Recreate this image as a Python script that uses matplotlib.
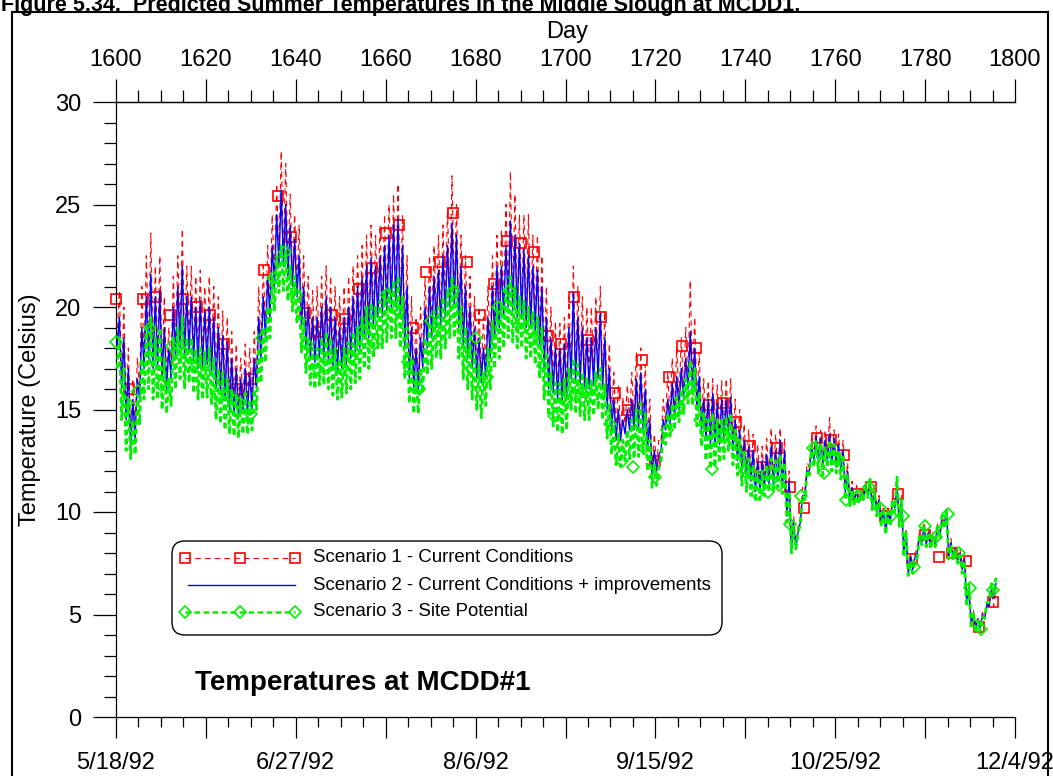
import numpy as np
import matplotlib
matplotlib.use("Agg")
import matplotlib.pyplot as plt
from matplotlib.patches import Rectangle, FancyBboxPatch
from matplotlib.lines import Line2D
from matplotlib.transforms import IdentityTransform
from matplotlib.ticker import MultipleLocator

plt.rcParams['font.family'] = ['Liberation Sans', 'DejaVu Sans']
plt.rcParams['lines.scale_dashes'] = False

W, H = 1053, 776
first_day = 1600

# daily highs / lows, one value per day from day 1600 to 1795
s1_high = [20.8, 20.0, 18.0, 16.5, 17.5, 21.0, 22.5, 23.6, 22.0, 22.5,
           20.5, 19.0, 21.5, 22.5, 23.8, 22.0, 22.0, 21.5, 21.8, 21.0,
           21.5, 21.0, 20.5, 19.8, 19.5, 18.8, 18.2, 17.5, 18.2, 18.0,
           18.8, 21.0, 22.0, 23.0, 24.5, 26.0, 27.6, 27.0, 25.5, 24.5,
           24.0, 22.5, 21.5, 20.8, 21.0, 21.5, 22.0, 21.5, 21.0, 20.5,
           21.0, 21.5, 22.0, 22.5, 23.0, 23.5, 24.0, 23.5, 24.0, 24.5,
           25.0, 25.5, 26.0, 24.5, 22.5, 20.5, 19.5, 20.0, 21.5, 22.5,
           23.0, 23.5, 24.0, 24.8, 26.4, 25.0, 23.5, 22.5, 21.5, 20.5,
           20.0, 19.5, 21.0, 22.5, 23.5, 23.8, 25.0, 26.6, 25.5, 24.5,
           24.5, 24.5, 23.5, 23.5, 22.5, 21.0, 20.0, 19.3, 19.2, 19.5,
           20.5, 22.0, 21.0, 20.5, 20.0, 20.0, 20.5, 21.0, 19.8, 18.2,
           16.8, 16.2, 15.6, 16.2, 16.8, 17.8, 18.0, 17.2, 15.5, 13.8,
           13.5, 15.5, 16.8, 17.5, 18.0, 18.5, 19.0, 21.3, 19.5, 17.8,
           16.5, 16.4, 16.5, 16.2, 16.4, 16.5, 16.5, 15.5, 15.0, 14.3,
           14.0, 13.8, 13.3, 13.2, 13.6, 14.1, 13.8, 14.1, 13.6, 12.0,
           9.8, 9.3, 11.2, 12.4, 13.6, 14.2, 14.0, 14.0, 14.6, 14.0,
           13.8, 13.5, 12.4, 11.5, 11.3, 11.2, 11.4, 11.6, 11.3, 10.8,
           10.3, 10.2, 10.7, 11.4, 10.8, 9.2, 8.0, 8.0, 9.0, 9.5,
           9.2, 9.0, 9.4, 9.8, 10.2, 8.7, 8.4, 8.2, 7.9, 6.5,
           5.2, 4.9, 5.1, 5.6, 6.3, 6.3]
s1_low = [18.5, 16.5, 15.0, 13.8, 14.2, 16.0, 17.5, 18.0, 17.5, 17.5,
          17.0, 16.5, 17.0, 18.0, 18.5, 18.0, 18.3, 17.8, 17.5, 17.5,
          17.7, 17.3, 16.5, 16.3, 16.0, 15.5, 15.3, 15.1, 15.3, 15.3,
          15.5, 16.5, 18.0, 19.0, 20.0, 21.5, 22.5, 22.5, 22.0, 21.5,
          21.0, 19.5, 18.5, 18.0, 17.8, 18.0, 18.0, 17.8, 17.5, 17.3,
          17.5, 17.7, 18.0, 18.3, 18.5, 19.0, 19.0, 19.5, 20.0, 20.0,
          20.3, 20.5, 20.5, 20.0, 18.5, 17.0, 16.5, 16.3, 17.5, 18.5,
          19.0, 19.5, 19.5, 20.0, 20.5, 20.5, 19.5, 18.5, 18.0, 17.5,
          17.0, 16.8, 17.1, 18.0, 19.0, 19.5, 20.0, 20.5, 20.3, 20.0,
          20.0, 19.5, 19.5, 19.3, 18.5, 17.5, 16.5, 16.3, 16.0, 15.8,
          16.0, 17.0, 16.8, 16.7, 16.5, 16.5, 16.7, 17.0, 16.5, 15.5,
          14.5, 14.0, 14.0, 14.3, 14.5, 14.5, 14.5, 14.5, 13.5, 12.2,
          12.3, 13.4, 14.4, 14.7, 14.9, 15.4, 15.9, 16.4, 16.4, 15.4,
          14.4, 13.9, 13.7, 13.6, 13.7, 13.9, 14.2, 13.4, 12.9, 12.4,
          12.1, 11.8, 11.3, 11.3, 11.5, 11.6, 11.6, 11.8, 11.5, 10.0,
          8.4, 8.5, 9.7, 11.0, 12.2, 12.7, 12.7, 12.5, 12.7, 12.5,
          12.4, 12.2, 11.2, 10.7, 10.7, 10.7, 10.9, 11.0, 10.5, 10.2,
          9.7, 9.2, 9.7, 10.4, 9.7, 8.2, 7.2, 7.4, 8.2, 8.7,
          8.6, 8.5, 8.6, 9.0, 9.5, 8.0, 7.9, 7.8, 7.4, 5.7,
          4.7, 4.4, 4.4, 4.9, 5.5, 5.4]

s2_high = [19.5, 18.5, 17.0, 15.5, 16.5, 19.0, 20.5, 21.6, 20.5, 20.8,
           19.0, 18.0, 20.0, 21.0, 22.0, 20.5, 20.5, 20.0, 20.3, 19.8,
           20.0, 19.5, 19.0, 18.6, 18.3, 17.5, 17.0, 16.5, 17.0, 16.8,
           17.5, 19.5, 20.5, 21.5, 23.0, 24.5, 25.7, 25.0, 24.0, 23.3,
           22.5, 21.0, 20.0, 19.5, 19.5, 20.0, 20.5, 20.0, 19.5, 19.0,
           19.5, 20.0, 20.5, 21.0, 21.5, 22.0, 22.4, 22.0, 22.5, 23.0,
           23.5, 24.0, 24.3, 23.0, 21.0, 19.0, 18.0, 18.5, 20.0, 21.0,
           21.5, 21.8, 22.5, 23.0, 24.1, 23.5, 22.0, 21.0, 20.0, 19.0,
           18.5, 18.0, 19.5, 21.0, 22.0, 22.0, 23.0, 24.2, 23.5, 23.1,
           22.8, 22.5, 22.0, 21.8, 21.0, 19.5, 18.5, 18.0, 18.0, 18.2,
           19.0, 20.7, 19.5, 19.0, 18.5, 18.5, 19.0, 19.7, 18.5, 17.0,
           15.5, 15.0, 14.5, 15.0, 15.5, 16.5, 16.8, 16.0, 14.5, 13.0,
           12.8, 14.5, 15.5, 16.3, 16.6, 17.0, 17.5, 18.8, 18.0, 16.6,
           15.5, 15.5, 15.8, 15.3, 15.5, 15.5, 15.6, 14.5, 14.0, 13.5,
           13.2, 13.0, 12.5, 12.5, 12.8, 13.2, 13.0, 13.5, 13.0, 11.5,
           9.5, 9.0, 10.8, 12.0, 13.2, 13.7, 13.6, 13.5, 13.8, 13.6,
           13.3, 13.0, 12.0, 11.2, 11.0, 11.0, 11.2, 11.4, 11.0, 10.6,
           10.0, 10.0, 10.5, 11.2, 10.5, 9.0, 7.8, 7.8, 8.8, 9.3,
           9.0, 8.8, 9.2, 9.6, 10.1, 8.5, 8.2, 8.0, 7.7, 6.3,
           5.0, 4.8, 5.0, 5.5, 6.2, 6.5]
s2_low = [18.0, 16.0, 14.5, 13.0, 13.5, 15.5, 17.0, 17.5, 17.0, 17.0,
          16.5, 16.0, 16.5, 17.5, 18.0, 17.5, 17.8, 17.3, 17.0, 17.0,
          17.2, 16.8, 16.0, 15.8, 15.5, 15.0, 14.8, 14.6, 14.8, 14.8,
          15.0, 16.0, 17.5, 18.5, 19.5, 21.0, 22.0, 22.0, 21.5, 21.0,
          20.5, 19.0, 18.0, 17.5, 17.3, 17.5, 17.5, 17.3, 17.0, 16.8,
          17.0, 17.2, 17.5, 17.8, 18.0, 18.5, 18.5, 19.0, 19.5, 19.5,
          19.8, 20.0, 20.0, 19.5, 18.0, 16.5, 16.0, 15.8, 17.0, 18.0,
          18.5, 19.0, 19.0, 19.5, 20.0, 20.0, 19.0, 18.0, 17.5, 17.0,
          16.5, 16.3, 16.6, 17.5, 18.5, 19.0, 19.5, 20.0, 19.8, 19.5,
          19.5, 19.0, 19.0, 18.8, 18.0, 17.0, 16.0, 15.8, 15.5, 15.3,
          15.5, 16.5, 16.3, 16.2, 16.0, 16.0, 16.2, 16.5, 16.0, 15.0,
          14.0, 13.5, 13.5, 13.8, 14.0, 14.0, 14.0, 14.0, 13.0, 11.8,
          12.0, 13.0, 14.0, 14.3, 14.5, 15.0, 15.5, 16.0, 16.0, 15.0,
          14.0, 13.5, 13.3, 13.2, 13.3, 13.5, 13.8, 13.0, 12.5, 12.0,
          11.8, 11.5, 11.0, 11.0, 11.2, 11.3, 11.3, 11.5, 11.2, 9.8,
          8.2, 8.3, 9.5, 10.8, 12.0, 12.5, 12.5, 12.3, 12.5, 12.3,
          12.2, 12.0, 11.0, 10.5, 10.5, 10.5, 10.7, 10.8, 10.3, 10.0,
          9.5, 9.0, 9.5, 10.2, 9.5, 8.0, 7.0, 7.2, 8.0, 8.5,
          8.4, 8.3, 8.4, 8.8, 9.3, 7.8, 7.7, 7.6, 7.2, 5.5,
          4.5, 4.3, 4.3, 4.8, 5.4, 5.8]

s3_high = [18.5, 17.0, 15.5, 14.5, 15.5, 17.5, 19.0, 19.5, 18.5, 19.0,
           17.5, 16.5, 18.5, 19.0, 19.5, 18.5, 18.5, 18.0, 18.0, 17.8,
           18.0, 17.5, 17.0, 16.8, 16.5, 16.0, 15.8, 15.5, 15.8, 15.5,
           16.0, 18.0, 19.0, 20.0, 21.5, 22.5, 23.0, 22.8, 22.0, 21.5,
           20.8, 19.5, 18.5, 18.0, 18.0, 18.5, 18.8, 18.5, 18.0, 17.5,
           18.0, 18.3, 18.8, 19.0, 19.5, 20.0, 20.2, 20.0, 20.3, 20.8,
           21.0, 21.3, 21.5, 20.5, 19.0, 17.5, 16.8, 17.0, 18.5, 19.3,
           19.8, 20.0, 20.5, 20.8, 21.5, 21.0, 20.0, 19.0, 18.5, 17.8,
           17.2, 16.8, 18.0, 19.3, 20.0, 20.3, 21.0, 21.5, 21.0, 20.5,
           20.3, 20.0, 19.8, 19.5, 19.0, 17.8, 16.8, 16.3, 16.3, 16.5,
           17.0, 17.5, 17.2, 16.8, 16.5, 16.5, 16.8, 17.0, 16.3, 15.3,
           14.2, 13.8, 13.5, 14.0, 14.5, 15.0, 15.3, 14.8, 13.5, 12.3,
           12.2, 13.8, 14.8, 15.3, 15.6, 16.0, 16.5, 17.4, 17.0, 15.8,
           14.8, 14.5, 14.8, 14.5, 14.6, 14.6, 14.8, 14.0, 13.5, 13.0,
           12.6, 12.3, 12.0, 12.0, 12.3, 12.6, 12.5, 12.8, 12.4, 11.0,
           9.3, 9.0, 10.8, 12.0, 13.2, 13.5, 13.3, 13.2, 13.5, 13.3,
           13.0, 12.8, 11.8, 11.1, 11.0, 11.0, 11.3, 11.6, 11.0, 10.5,
           10.0, 10.0, 10.6, 11.7, 10.6, 9.0, 7.6, 7.6, 8.8, 9.4,
           9.0, 8.8, 9.3, 9.8, 10.1, 8.4, 8.1, 7.9, 7.6, 6.4,
           5.1, 4.7, 4.9, 5.6, 6.5, 6.8]
s3_low = [17.0, 14.5, 13.0, 12.6, 12.8, 14.3, 15.5, 16.0, 15.5, 15.5,
          15.0, 14.8, 15.2, 16.0, 16.5, 16.0, 16.3, 15.8, 15.5, 15.5,
          15.6, 15.2, 14.5, 14.3, 14.0, 13.8, 13.7, 13.6, 13.8, 13.8,
          14.0, 15.0, 16.3, 17.3, 18.5, 19.8, 20.7, 20.8, 20.3, 19.8,
          19.2, 17.8, 16.8, 16.2, 16.0, 16.2, 16.2, 16.0, 15.7, 15.5,
          15.6, 15.8, 16.0, 16.3, 16.5, 17.0, 17.0, 17.5, 18.0, 18.0,
          18.3, 18.5, 18.5, 18.0, 16.5, 15.3, 14.8, 14.8, 15.8, 16.7,
          17.0, 17.5, 17.5, 18.0, 18.5, 18.5, 17.5, 16.5, 16.0, 15.5,
          15.0, 14.6, 15.2, 16.0, 17.0, 17.5, 18.0, 18.5, 18.3, 18.0,
          18.0, 17.5, 17.5, 17.2, 16.5, 15.5, 14.7, 14.2, 13.9, 13.8,
          14.0, 15.0, 14.8, 14.7, 14.5, 14.5, 14.7, 15.0, 14.5, 13.6,
          12.8, 12.3, 12.2, 12.5, 12.6, 12.6, 12.7, 12.8, 12.0, 11.2,
          11.3, 12.5, 13.3, 13.7, 14.0, 14.4, 14.8, 15.3, 15.2, 14.2,
          13.2, 12.5, 12.1, 12.2, 12.4, 12.6, 13.0, 12.3, 11.8, 11.3,
          11.0, 10.8, 10.5, 10.6, 10.8, 11.0, 11.0, 11.2, 10.9, 9.5,
          8.0, 8.2, 9.4, 10.6, 11.8, 12.2, 12.0, 11.8, 12.2, 12.0,
          11.9, 11.6, 10.6, 10.3, 10.3, 10.4, 10.6, 10.7, 10.1, 9.8,
          9.3, 8.9, 9.3, 10.0, 9.3, 7.8, 6.9, 7.0, 7.8, 8.4,
          8.3, 8.2, 8.3, 8.7, 9.2, 7.7, 7.6, 7.5, 7.0, 5.4,
          4.3, 4.1, 4.2, 4.8, 5.6, 6.0]

# marker values: scenario 1 every 3 days, scenario 3 every 2.5 days
s1_marks = [20.4, 16.0, 20.4, 20.5, 19.6, 20.4, 20.0, 19.6, 18.2, 16.0,
            16.5, 21.8, 25.4, 23.4, 19.7, 18.8, 19.6, 19.4, 20.9, 21.9,
            23.6, 24.0, 19.0, 21.7, 22.2, 24.6, 22.2, 19.6, 21.1, 23.2,
            23.1, 22.7, 18.6, 18.2, 20.5, 18.4, 19.5, 15.8, 15.0, 17.4,
            12.5, 16.6, 18.1, 18.0, 15.2, 15.3, 14.4, 13.2, 12.2, 13.1,
            11.2, 10.2, 13.6, 13.5, 12.8, 10.9, 11.2, 9.8, 10.9, 7.7,
            8.9, 7.8, 8.0, 7.6, 4.4, 5.6]
s3_marks = [18.3, 15.3, 15.9, 19.0, 16.2, 18.1, 17.8, 17.3, 16.8, 15.7,
            15.7, 15.3, 14.8, 18.5, 21.4, 22.7, 20.6, 18.2, 17.0, 17.5,
            17.0, 17.6, 18.9, 18.2, 20.6, 19.9, 17.3, 16.0, 19.3, 18.8,
            20.8, 17.8, 18.5, 16.6, 20.0, 20.8, 19.2, 18.4, 17.1, 14.7,
            15.5, 15.9, 15.9, 15.9, 14.3, 12.5, 12.2, 13.1, 11.7, 14.0,
            15.0, 16.0, 14.5, 12.1, 13.9, 13.5, 12.0, 10.9, 11.0, 11.3,
            9.4, 10.8, 13.1, 11.9, 12.7, 10.6, 10.8, 11.2, 10.2, 9.8,
            9.8, 7.3, 9.3, 8.8, 9.9, 8.0, 6.3, 4.3, 6.2]

day_ticks = list(range(1600, 1801, 20))
date_ticks = [1600, 1640, 1680, 1720, 1760, 1800]
date_labels = ['5/18/92', '6/27/92', '8/6/92', '9/15/92', '10/25/92', '12/4/92']

series_names = ['Scenario 1 - Current Conditions',
                'Scenario 2 - Current Conditions + improvements',
                'Scenario 3 - Site Potential']

RED, BLUE, GREEN = '#ff0000', '#0000ff', '#00f000'


def zigzag(lows, highs):
    d = first_day + np.arange(len(lows))
    x = np.column_stack([d + 0.25, d + 0.75]).ravel()
    y = np.column_stack([lows, highs]).ravel()
    return x, y


fig = plt.figure(figsize=(W / 100, H / 100), dpi=100)
ax = fig.add_axes([116 / W, 1 - 717 / H, (1015 - 116) / W, (717 - 102) / H])

x1, y1 = zigzag(s1_low, s1_high)
x2, y2 = zigzag(s2_low, s2_high)
x3, y3 = zigzag(s3_low, s3_high)

ax.plot(x1, y1, color=RED, lw=0.8, dashes=(4, 3), zorder=2)
ax.plot(first_day + 3 * np.arange(len(s1_marks)), s1_marks, ls='none',
        marker='s', ms=7, mfc='none', mec=RED, mew=1.2, zorder=2.5, clip_on=False)
ax.plot(x2, y2, color=BLUE, lw=1.0, zorder=3)
ax.plot(x3, y3, color=GREEN, lw=2.0, dashes=(4, 2.5), zorder=4)
ax.plot(first_day + 2.5 * np.arange(len(s3_marks)), s3_marks, ls='none',
        marker='D', ms=6, mfc='none', mec=GREEN, mew=1.2, zorder=4.5, clip_on=False)

ax.set_xlim(1600, 1800)
ax.set_ylim(0, 30)
ax.spines['right'].set_visible(False)
for s in ['left', 'bottom', 'top']:
    ax.spines[s].set_linewidth(0.9)

# left axis
ax.yaxis.set_major_locator(MultipleLocator(5))
ax.yaxis.set_minor_locator(MultipleLocator(1))
ax.tick_params(axis='y', which='major', length=16.5, width=0.9, labelsize=17, pad=8.5)
ax.tick_params(axis='y', which='minor', length=8.5, width=0.9)

# bottom axis: dates
ax.set_xticks(day_ticks)
ax.set_xticklabels([date_labels[date_ticks.index(t)] if t in date_ticks else ''
                    for t in day_ticks])
ax.xaxis.set_minor_locator(MultipleLocator(5))
ax.tick_params(axis='x', which='major', length=15, width=0.9, labelsize=17, pad=10)
ax.tick_params(axis='x', which='minor', length=7.5, width=0.9)

# top axis: day number
top = ax.secondary_xaxis('top')
top.set_xticks(day_ticks)
top.xaxis.set_minor_locator(MultipleLocator(5))
top.tick_params(axis='x', which='major', length=16.5, width=0.9, labelsize=17, pad=6)
top.tick_params(axis='x', which='minor', length=8.5, width=0.9)
top.spines['top'].set_linewidth(0.9)

px = IdentityTransform()
fig.text(567, H - 38, 'Day', fontsize=17, ha='center', va='baseline', transform=px)
fig.text(30, H - 409.5, 'Temperature (Celsius)', fontsize=17, rotation=90,
         ha='center', va='center', transform=px)
fig.text(1, H - 11, 'Figure 5.34.  Predicted Summer Temperatures in the Middle Slough at MCDD1.',
         fontsize=15.5, fontweight='bold', ha='left', va='baseline', transform=px)
fig.text(195, H - 690, 'Temperatures at MCDD#1', fontsize=20, fontweight='bold',
         ha='left', va='baseline', transform=px)

# outer frame of the figure
fig.add_artist(Rectangle((12, -20), 1048 - 12, H - 12 + 20, transform=px,
                         fill=False, lw=1.5, edgecolor='black'))

# legend box drawn by hand
fig.add_artist(FancyBboxPatch((172, H - 635), 722 - 172, 635 - 541, transform=px,
                              boxstyle='round,pad=0,rounding_size=13',
                              fill=False, lw=1.0, edgecolor='black'))
rows = [558, 585, 612]
fig.add_artist(Line2D([185, 240, 295], [H - rows[0]] * 3, transform=px, color=RED,
                      lw=0.8, dashes=(4, 3), marker='s', ms=7, mfc='none', mec=RED, mew=1.2))
fig.add_artist(Line2D([188, 295], [H - rows[1]] * 2, transform=px, color=BLUE, lw=1.0))
fig.add_artist(Line2D([185, 240, 295], [H - rows[2]] * 3, transform=px, color=GREEN,
                      lw=1.8, dashes=(4, 2.5), marker='D', ms=6, mfc='none', mec=GREEN, mew=1.2))
for r, name in zip(rows, series_names):
    fig.text(313, H - r, name, fontsize=13.4, ha='left', va='center', transform=px)

fig.savefig('out.png', dpi=100)
